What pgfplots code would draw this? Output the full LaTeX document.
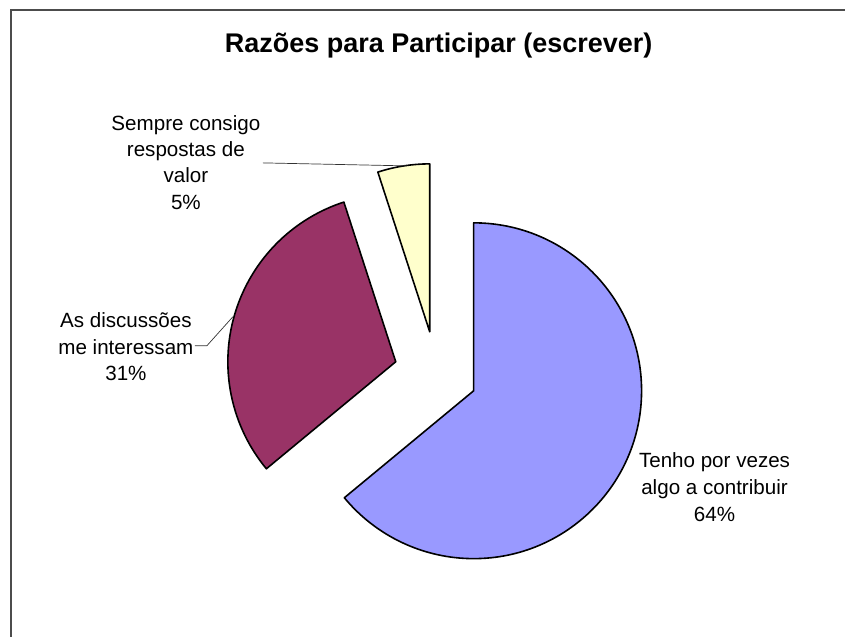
\documentclass[border=0pt]{standalone}
\usepackage{pgfplots}
\pgfplotsset{compat=1.18}
\usepackage{fontspec}
\setmainfont{Liberation Sans}
\definecolor{pieblue}{RGB}{153,153,255}
\definecolor{piered}{RGB}{153,51,102}
\definecolor{pieyellow}{RGB}{255,255,204}

% slice shares (%): 64, 31, 5 -> angles clockwise from 90 deg
% blue 90 .. -140.4, red -140.4 .. -252, yellow -252 .. -270
\newcommand{\lbl}{\fontsize{20.6}{27}\selectfont}

\begin{document}
\begin{tikzpicture}
\begin{axis}[
  scale only axis, width=846pt, height=637pt,
  xmin=0, xmax=846, ymin=0, ymax=637,
  hide axis, clip=false,
]
% keep the whole canvas in the bounding box
\path (rel axis cs:0,0) rectangle (rel axis cs:1,1);

% chart frame (cut by the picture at right and bottom)
\draw[line width=1.1pt, black!70] (axis cs:11,0) -- (axis cs:11,627) -- (axis cs:846,627);

% title
\node[anchor=base, font=\fontsize{27}{32}\selectfont\bfseries] at (axis cs:439,584)
  {Razões para Participar (escrever)};

% slices (exploded)
\filldraw[fill=pieblue, draw=black, line width=1.6pt, line join=round]
  (axis cs:474,246) -- ++(90:168pt) arc[start angle=90, end angle=-140.4, radius=168pt] -- cycle;
\filldraw[fill=piered, draw=black, line width=1.6pt, line join=round]
  (axis cs:396,275) -- ++(-140.4:168pt) arc[start angle=-140.4, end angle=-252, radius=168pt] -- cycle;
\filldraw[fill=pieyellow, draw=black, line width=1.6pt, line join=round]
  (axis cs:430,305) -- ++(-252:168pt) arc[start angle=-252, end angle=-270, radius=168pt] -- cycle;

% leader lines
\draw[line width=0.7pt, black!80] (axis cs:263,474) -- (axis cs:407,471);
\draw[line width=0.7pt, black!80] (axis cs:195,291) -- (axis cs:207,291) -- (axis cs:233,320);

% data labels
\node[anchor=base, font=\lbl] at (axis cs:186,506) {Sempre consigo};
\node[anchor=base, font=\lbl] at (axis cs:186,480) {respostas de};
\node[anchor=base, font=\lbl] at (axis cs:186,454) {valor};
\node[anchor=base, font=\lbl] at (axis cs:186,427) {5\%};

\node[anchor=base, font=\lbl] at (axis cs:126,309) {As discussões};
\node[anchor=base, font=\lbl] at (axis cs:126,282) {me interessam};
\node[anchor=base, font=\lbl] at (axis cs:126,256) {31\%};

\node[anchor=base, font=\lbl] at (axis cs:715,169) {Tenho por vezes};
\node[anchor=base, font=\lbl] at (axis cs:715,142) {algo a contribuir};
\node[anchor=base, font=\lbl] at (axis cs:715,115) {64\%};
\end{axis}
\end{tikzpicture}
\end{document}
